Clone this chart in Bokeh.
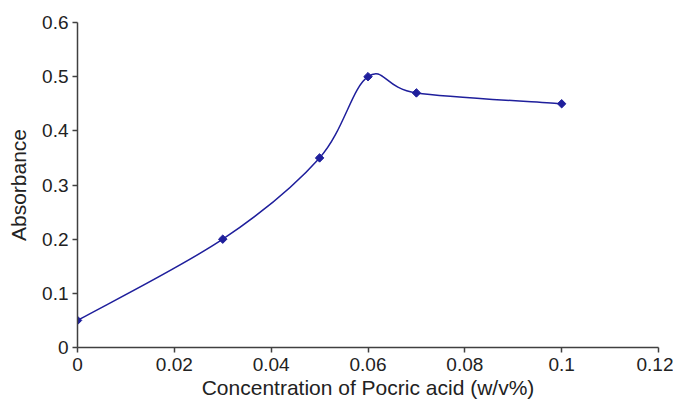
from bokeh.plotting import figure
from bokeh.embed import file_html
from bokeh.resources import INLINE
from bokeh.models import FixedTicker, Range1d
import numpy as np

# Data
conc = [0.0, 0.03, 0.05, 0.06, 0.07, 0.10]
absorb = [0.05, 0.20, 0.35, 0.50, 0.47, 0.45]
x_ticks = [0, 0.02, 0.04, 0.06, 0.08, 0.1, 0.12]
x_tick_labels = ["0", "0.02", "0.04", "0.06", "0.08", "0.1", "0.12"]
y_ticks = [0, 0.1, 0.2, 0.3, 0.4, 0.5, 0.6]
y_tick_labels = ["0", "0.1", "0.2", "0.3", "0.4", "0.5", "0.6"]

FONT = "Liberation Sans"
LINE_COLOR = "#1f1f9c"

p = figure(width=673, height=402, output_backend="svg", toolbar_location=None,
           x_range=Range1d(0, 0.12), y_range=Range1d(0, 0.6),
           min_border_left=77, min_border_right=15, min_border_top=22, min_border_bottom=55)
p.outline_line_color = None
p.xgrid.visible = False
p.ygrid.visible = False

# Smoothed line (Catmull-Rom style Bezier segments, like a spreadsheet smoothed line)
x = np.array(conc)
y = np.array(absorb)
n = len(x)
xp = np.concatenate([[x[0]], x, [x[-1]]])
yp = np.concatenate([[y[0]], y, [y[-1]]])
x0, y0, x1, y1, cx0, cy0, cx1, cy1 = [], [], [], [], [], [], [], []
for i in range(n - 1):
    a, b, c, d = i, i + 1, i + 2, i + 3
    x0.append(xp[b]); y0.append(yp[b])
    x1.append(xp[c]); y1.append(yp[c])
    cx0.append(xp[b] + (xp[c] - xp[a]) / 6); cy0.append(yp[b] + (yp[c] - yp[a]) / 6)
    cx1.append(xp[c] - (xp[d] - xp[b]) / 6); cy1.append(yp[c] - (yp[d] - yp[b]) / 6)
p.bezier(x0=x0, y0=y0, x1=x1, y1=y1, cx0=cx0, cy0=cy0, cx1=cx1, cy1=cy1,
         line_color=LINE_COLOR, line_width=1.5)
p.scatter(conc, absorb, marker="square", angle=np.pi / 4, size=6,
          fill_color=LINE_COLOR, line_color=LINE_COLOR)

for ax, ticks, labels in ((p.xaxis[0], x_ticks, x_tick_labels), (p.yaxis[0], y_ticks, y_tick_labels)):
    ax.ticker = FixedTicker(ticks=ticks)
    ax.major_label_overrides = {t: l for t, l in zip(ticks, labels)}
    ax.minor_tick_line_color = None
    ax.major_tick_in = 0
    ax.major_tick_out = 5
    ax.axis_line_color = "#404040"
    ax.axis_line_width = 1.5
    ax.major_tick_line_color = "#404040"
    ax.major_tick_line_width = 1.5
    ax.major_label_text_font = FONT
    ax.major_label_text_font_size = "19px"
    ax.major_label_text_color = "#222222"
    ax.axis_label_text_font = FONT
    ax.axis_label_text_font_size = "21px"
    ax.axis_label_text_font_style = "normal"
    ax.axis_label_text_color = "#222222"

p.xaxis.axis_label = "Concentration of Pocric acid (w/v%)"
p.yaxis.axis_label = "Absorbance"
p.xaxis.major_label_standoff = 5
p.yaxis.major_label_standoff = 4
p.xaxis.axis_label_standoff = 2
p.yaxis.axis_label_standoff = 9

open("out.html", "w").write(file_html(p, INLINE))
